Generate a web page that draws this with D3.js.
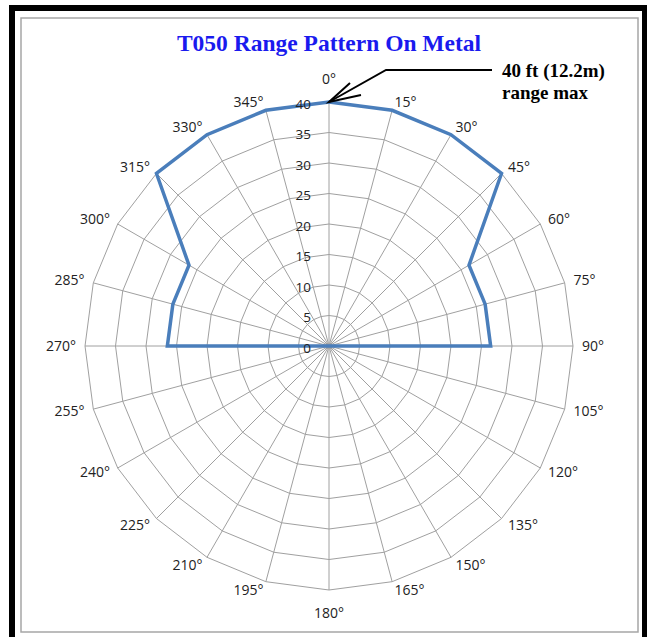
<!DOCTYPE html>
<html>
<head>
<meta charset="utf-8">
<script src="https://cdn.jsdelivr.net/npm/d3@7"></script>
<style>
  body { margin: 0; background: #fff; }
  svg { display: block; }
</style>
</head>
<body>
<svg width="647" height="637"></svg>
<script>
var svg = d3.select('svg');

// chart data
var angles = [0, 15, 30, 45, 60, 75, 90, 105, 120, 135, 150, 165,
              180, 195, 210, 225, 240, 255, 270, 285, 300, 315, 330, 345];
var rangeFt = [40, 40, 40, 40, 26.5, 26.5, 26.5, 0, 0, 0, 0, 0,
               0, 0, 0, 0, 0, 0, 26.5, 26.5, 26.5, 40, 40, 40];
var ringTicks = [0, 5, 10, 15, 20, 25, 30, 35, 40];
var title = "T050 Range Pattern On Metal";
var noteLines = ["40 ft (12.2m)", "range max"];

var cx = 329, cy = 346, R = 244;
var r = d3.scaleLinear().domain([0, 40]).range([0, R]);
var rad = function (a) { return a * Math.PI / 180; };

// outer frames
svg.append("path")
    .attr("d", "M12,637 L12,8 L645,8 L645,637")
    .attr("fill", "none")
    .attr("stroke", "#000")
    .attr("stroke-width", 6);
svg.append("rect")
    .attr("x", 21).attr("y", 18)
    .attr("width", 617).attr("height", 614)
    .attr("fill", "#fff")
    .attr("stroke", "#a6a6a6")
    .attr("stroke-width", 1.5);

// title
svg.append("text")
    .attr("x", 329).attr("y", 51)
    .attr("text-anchor", "middle")
    .attr("font-family", "'Liberation Serif', 'Times New Roman', serif")
    .attr("font-weight", "bold")
    .attr("font-size", "23.5px")
    .attr("fill", "#1a1aee")
    .text(title);

var g = svg.append("g").attr("transform", "translate(" + cx + "," + cy + ")");

// web rings
var ring = d3.lineRadial()
    .angle(function (a) { return rad(a); })
    .curve(d3.curveLinearClosed);

g.selectAll(".ring")
    .data(ringTicks.filter(function (t) { return t > 0; }))
    .enter().append("path")
    .attr("class", "ring")
    .attr("d", function (t) { return ring.radius(r(t))(angles); })
    .attr("fill", "none")
    .attr("stroke", "#a0a0a0")
    .attr("stroke-width", 1);

// spokes
g.selectAll(".spoke")
    .data(angles)
    .enter().append("line")
    .attr("class", "spoke")
    .attr("x1", 0).attr("y1", 0)
    .attr("x2", function (a) { return r(40) * Math.sin(rad(a)); })
    .attr("y2", function (a) { return -r(40) * Math.cos(rad(a)); })
    .attr("stroke", "#a0a0a0")
    .attr("stroke-width", 1);

// range line
var rangeLine = d3.lineRadial()
    .angle(function (d, i) { return rad(angles[i]); })
    .radius(function (d) { return r(d); })
    .curve(d3.curveLinearClosed);

g.append("path")
    .attr("d", rangeLine(rangeFt))
    .attr("fill", "none")
    .attr("stroke", "#4a7ebb")
    .attr("stroke-width", 3.5)
    .attr("stroke-linejoin", "miter");

// value axis labels
g.selectAll(".tick")
    .data(ringTicks)
    .enter().append("text")
    .attr("class", "tick")
    .attr("x", -18)
    .attr("y", function (t) { return -r(t) + 2; })
    .attr("dy", "0.35em")
    .attr("text-anchor", "end")
    .attr("font-family", "'Open Sans', sans-serif")
    .attr("font-size", "13.5px")
    .attr("fill", "#222")
    .text(function (t) { return t; });

// angle labels
g.selectAll(".alab")
    .data(angles)
    .enter().append("text")
    .attr("class", "alab")
    .attr("x", function (a) { return (R + 9) * Math.sin(rad(a)); })
    .attr("y", function (a) {
        var s = Math.sin(rad(a)), c = Math.cos(rad(a));
        var y = -(R + 9) * c;
        if (Math.abs(s) < 0.01) y -= c * 14;
        return y;
    })
    .attr("dy", "0.35em")
    .attr("text-anchor", function (a) {
        var s = Math.sin(rad(a));
        return s > 0.01 ? "start" : (s < -0.01 ? "end" : "middle");
    })
    .attr("font-family", "'Open Sans', sans-serif")
    .attr("font-size", "14px")
    .attr("fill", "#222")
    .text(function (a) { return a + "\u00b0"; });

// annotation arrow
var tipX = cx + r(40) * Math.sin(0), tipY = cy - r(40);
svg.append("path")
    .attr("d", "M492,70 L386,70 L" + tipX + "," + tipY)
    .attr("fill", "none")
    .attr("stroke", "#000")
    .attr("stroke-width", 2);
svg.append("path")
    .attr("d", "M350,83 L" + tipX + "," + tipY + " L361,95")
    .attr("fill", "none")
    .attr("stroke", "#000")
    .attr("stroke-width", 2);

svg.selectAll(".note")
    .data(noteLines)
    .enter().append("text")
    .attr("class", "note")
    .attr("x", 502)
    .attr("y", function (d, i) { return 77 + i * 22; })
    .attr("font-family", "'Liberation Serif', 'Times New Roman', serif")
    .attr("font-weight", "bold")
    .attr("font-size", "19px")
    .attr("fill", "#000")
    .text(function (d) { return d; });
</script>
</body>
</html>
